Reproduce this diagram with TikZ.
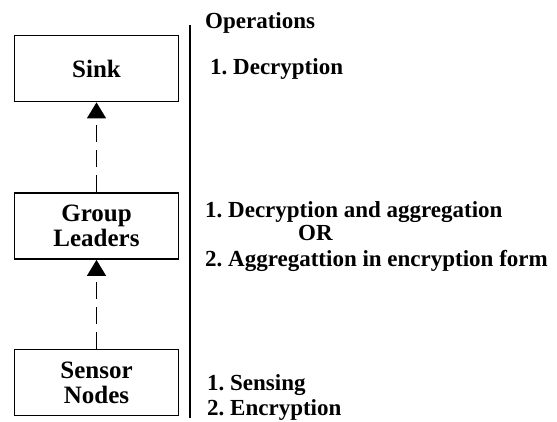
\documentclass[tikz,border=0pt]{standalone}
\usepackage{fontspec}
\setmainfont{Liberation Serif}
\usetikzlibrary{arrows.meta}
\begin{document}
\frenchspacing
\begin{tikzpicture}[x=1pt,y=-1pt,
  box/.style={draw, line width=1.8pt, minimum width=164pt, minimum height=66pt, inner sep=0pt, align=center, font=\fontsize{25}{25}\selectfont\bfseries},
  op/.style={anchor=base west, inner sep=0pt, font=\fontsize{23}{23}\selectfont\bfseries},
  flow/.style={line width=1.4pt, dash pattern=on 17pt off 8pt, -{Triangle[width=19pt,length=16pt]}}]
\useasboundingbox (0,0) rectangle (557,421);
\node[box] (sink) at (96.5,68.5) {Sink};
\node[box] (group) at (96.5,226) {Group\\Leaders};
\node[box] (sensor) at (96.5,382.5) {Sensor\\Nodes};
\draw[flow] (group.north) -- (sink.south);
\draw[flow] (sensor.north) -- (group.south);
\coordinate (vtop) at (190,25);
\coordinate (vbot) at (190,418);
\draw[line width=1.8pt] (vtop) -- (vbot);
\node[op] (ops) at (205,28) {Operations};
\node[op] (d1) at (210,74) {1. Decryption};
\node[op] (g1) at (205,217) {1. Decryption and aggregation};
\node[op] (gor) at (298,240) {OR};
\node[op] (g2) at (205,266) {2. Aggregattion in encryption form};
\node[op] (s1) at (207,390) {1. Sensing};
\node[op] (s2) at (207,415) {2. Encryption};
\end{tikzpicture}
\end{document}
